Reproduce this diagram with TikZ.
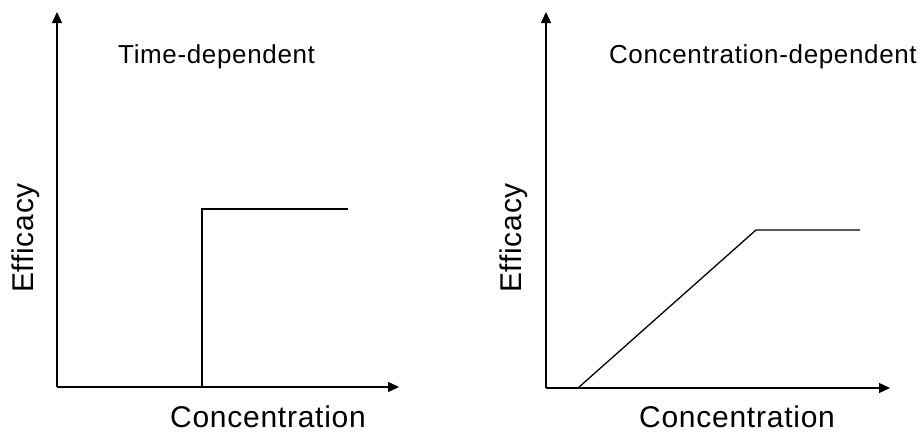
\documentclass[tikz,border=0pt]{standalone}
\usepackage{fontspec}
\setmainfont{Liberation Sans}
\newfontfamily\labelfont[LetterSpace=2.5]{Liberation Sans}
\usetikzlibrary{arrows.meta}
\tikzset{
	axis/.style={line width=1.3pt, -{Triangle[length=11pt,width=10pt]}},
	curve/.style={line width=1.3pt},
	titletext/.style={inner sep=0pt, font=\labelfont\fontsize{26}{30}\selectfont},
	axistext/.style={inner sep=0pt, font=\labelfont\fontsize{30}{34}\selectfont}
}

\begin{document}
\begin{tikzpicture}[x=1pt, y=-1pt]
		%%%%% START %%%%%
		\useasboundingbox[fill=white] (0, 0) rectangle (922, 434);
		
		% time-dependent panel
		\coordinate (oL) at (57, 387);
		\coordinate (yL) at (57, 12);
		\coordinate (xL) at (399, 387);
		\coordinate (stepA) at (202, 387);
		\coordinate (stepB) at (202, 209);
		\coordinate (stepC) at (348, 209);
		\draw[axis] (oL) -- (yL);
		\draw[axis] (oL) -- (xL);
		\draw[curve] (stepA) -- (stepB) -- (stepC);
		\node[titletext, anchor=base west] (titleL) at (118, 63) {Time-dependent};
		\node[axistext, anchor=base, rotate=90] (effL) at (33, 238) {Efficacy};
		\node[axistext, anchor=base] (concL) at (268, 427) {Concentration};
		
		% concentration-dependent panel
		\coordinate (oR) at (546, 388);
		\coordinate (yR) at (546, 12);
		\coordinate (xR) at (890, 388);
		\coordinate (rampA) at (578, 388);
		\coordinate (rampB) at (756, 230);
		\coordinate (rampC) at (860, 230);
		\draw[axis] (oR) -- (yR);
		\draw[axis] (oR) -- (xR);
		\draw[curve] (rampA) -- (rampB) -- (rampC);
		\node[titletext, anchor=base east] (titleR) at (917, 63) {Concentration-dependent};
		\node[axistext, anchor=base, rotate=90] (effR) at (521, 238) {Efficacy};
		\node[axistext, anchor=base] (concR) at (737, 427) {Concentration};
		%%%%% END %%%%%
\end{tikzpicture}
\end{document}
